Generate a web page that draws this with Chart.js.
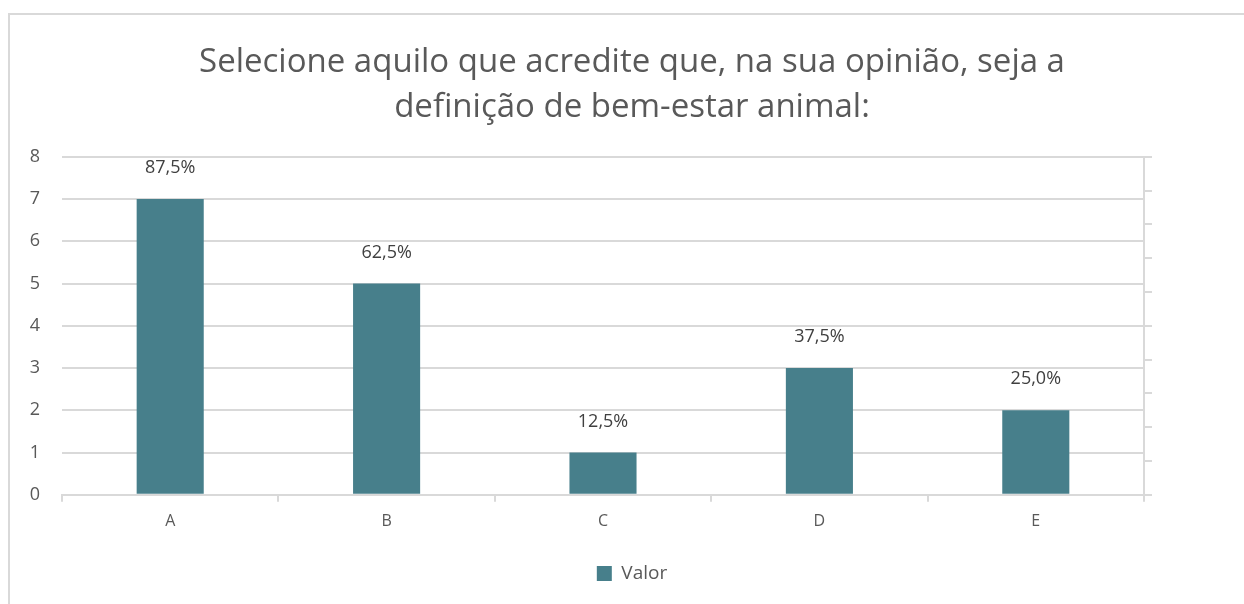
<!DOCTYPE html>
<html>
<head>
<meta charset="utf-8">
<script src="https://cdn.jsdelivr.net/npm/chart.js@4"></script>
<style>
  html, body { margin: 0; padding: 0; background: #fff; }
  body { width: 1244px; height: 604px; position: relative; overflow: hidden; }
  #frame { position: absolute; left: 8px; top: 13px; width: 1240px; height: 600px;
           border: 2px solid #d9d9d9; box-sizing: border-box; }
  #wrap { position: absolute; left: 10px; top: 0; width: 1244px; height: 604px; }
</style>
</head>
<body>
<div id="frame"></div>
<div id="wrap"><canvas id="myChart"></canvas></div>
<script>
const labels = ['A', 'B', 'C', 'D', 'E'];
const values = [7, 5, 1, 3, 2];
const pctLabels = ['87,5%', '62,5%', '12,5%', '37,5%', '25,0%'];
const titleLines = ['Selecione aquilo que acredite que, na sua opinião, seja a', 'definição de bem-estar animal:'];

const barColor = '#477f8b';
const textColor = '#595959';
const gridColor = '#d9d9d9';
const fontFamily = "'Open Sans', 'Liberation Sans', sans-serif";

// draws the percentage above each bar
const pctPlugin = {
  id: 'pctLabels',
  afterDatasetsDraw(chart) {
    const ctx = chart.ctx;
    const meta = chart.getDatasetMeta(0);
    ctx.save();
    ctx.font = '18px ' + fontFamily;
    ctx.fillStyle = '#404040';
    ctx.textAlign = 'center';
    ctx.textBaseline = 'bottom';
    meta.data.forEach((bar, i) => {
      ctx.fillText(pctLabels[i], bar.x, bar.y - 22);
    });
    ctx.restore();
  }
};

const data = {
  labels: labels,
  datasets: [{
    label: 'Valor',
    data: values,
    backgroundColor: barColor,
    borderWidth: 0,
    barPercentage: 0.31,
    categoryPercentage: 1,
    yAxisID: 'y'
  }]
};

const config = {
  type: 'bar',
  data: data,
  options: {
    responsive: false,
    animation: false,
    layout: { padding: { top: 20, bottom: 11, left: 0, right: 0 } },
    scales: {
      x: {
        grid: { display: true, drawOnChartArea: false, drawTicks: true, tickLength: 7, color: gridColor, lineWidth: 2 },
        border: { display: true, color: gridColor, width: 2 },
        ticks: { color: textColor, font: { size: 16, family: fontFamily }, padding: 10 }
      },
      y: {
        min: 0, max: 8,
        ticks: { stepSize: 1, color: textColor, font: { size: 18, family: fontFamily }, padding: 22 },
        grid: { color: gridColor, lineWidth: 2, drawTicks: false },
        border: { display: false },
        afterFit(scale) { scale.width = 52; }
      },
      y2: {
        position: 'right',
        min: 0, max: 10,
        ticks: { stepSize: 1, display: false },
        grid: { drawOnChartArea: false, drawTicks: true, tickLength: 8, color: gridColor, lineWidth: 2 },
        border: { display: true, color: gridColor, width: 2 },
        afterFit(scale) { scale.width = 110; }
      }
    },
    plugins: {
      title: {
        display: true,
        text: titleLines,
        color: textColor,
        font: { size: 33, family: fontFamily, weight: 'normal', lineHeight: 1.36 },
        padding: { top: 20, bottom: 27 }
      },
      legend: {
        position: 'bottom',
        labels: { color: textColor, font: { size: 19, family: fontFamily }, boxWidth: 15, boxHeight: 15, padding: 23 }
      },
      tooltip: { enabled: false }
    }
  },
  plugins: [pctPlugin]
};

var ctx = document.getElementById('myChart');
ctx.width = 1244;
ctx.height = 604;
var myChart = new Chart(ctx, config);
</script>
</body>
</html>
